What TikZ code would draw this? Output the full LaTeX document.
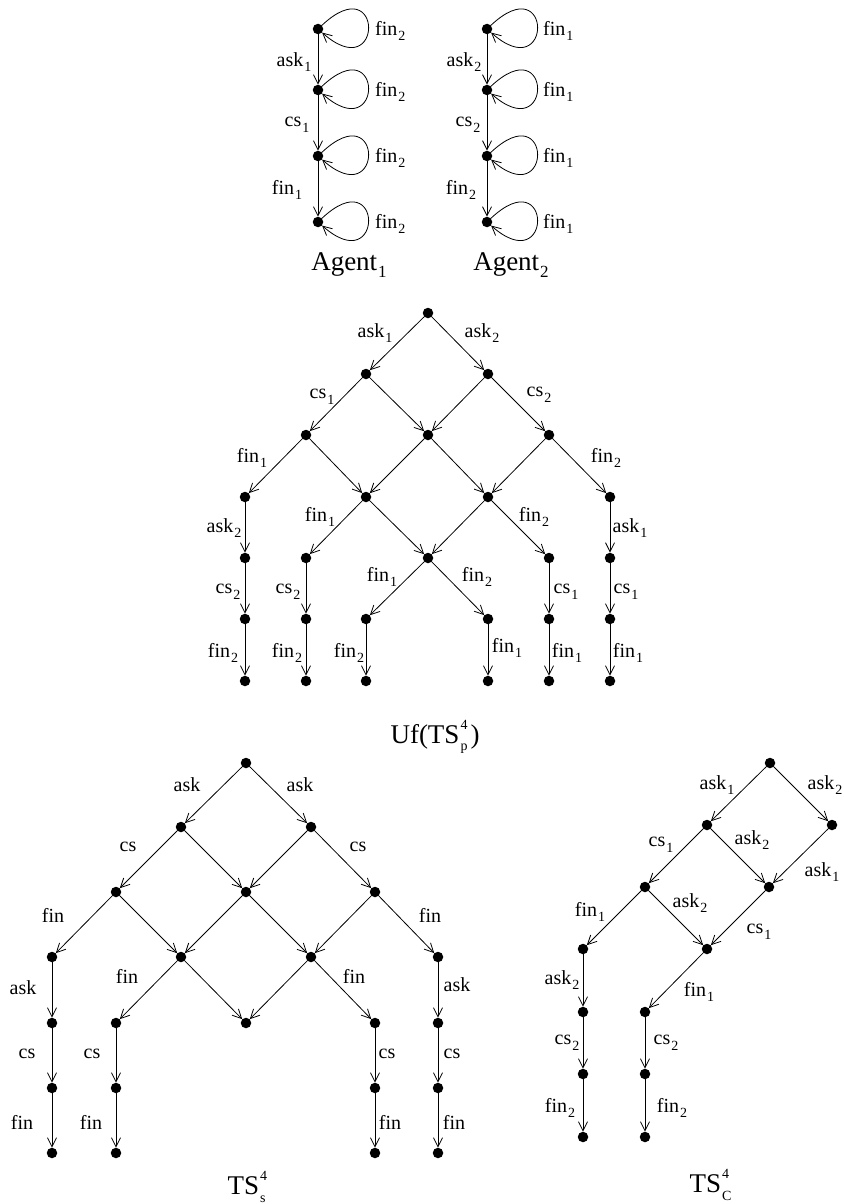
\documentclass[tikz,border=0pt]{standalone}
\usepackage{fontspec}
\setmainfont{Liberation Serif}
\usetikzlibrary{arrows.meta}
\newcommand\sbs[1]{\kern1pt\raisebox{-0.6ex}{\fontsize{14}{14}\selectfont #1}}
\newcommand\tsbs[1]{\kern1pt\raisebox{-0.6ex}{\fontsize{17}{17}\selectfont #1}}
\newcommand\supsub[2]{\kern1pt\makebox[0pt][l]{\raisebox{1.15ex}{\fontsize{14}{14}\selectfont #1}}\raisebox{-0.6ex}{\fontsize{14}{14}\selectfont #2}\kern3pt}
\begin{document}
\begin{tikzpicture}[x=1pt,y=-1pt,
 dot/.style={circle,fill=black,inner sep=0pt,minimum size=10.5pt},
 arr/.style={-{Straight Barb[length=9pt,width=9pt]},line width=0.8pt},
 lbl/.style={font=\fontsize{20}{20}\selectfont,inner sep=0pt},
 ttl/.style={font=\fontsize{27}{27}\selectfont,inner sep=0pt}]
\useasboundingbox (0,0) rectangle (843,1204);

% ---------- Agents ----------
\foreach \n/\y in {1/29,2/90,3/156,4/222}{
  \node[dot] (a\n) at (318,\y) {};
  \node[dot] (b\n) at (487,\y) {};
  \draw[arr] (a\n) .. controls +(66,-62) and +(66,58) .. (a\n);
  \draw[arr] (b\n) .. controls +(66,-62) and +(66,58) .. (b\n);
  \node[lbl,anchor=west] (la\n) at (375,\y+2) {fin\sbs{2}};
  \node[lbl,anchor=west] (lb\n) at (543,\y+2) {fin\sbs{1}};
}
\draw[arr] (a1) -- (a2); \draw[arr] (a2) -- (a3); \draw[arr] (a3) -- (a4);
\draw[arr] (b1) -- (b2); \draw[arr] (b2) -- (b3); \draw[arr] (b3) -- (b4);
\node[lbl] (lae1) at (294,62) {ask\sbs{1}};
\node[lbl] (lae2) at (297,125) {cs\sbs{1}};
\node[lbl] (lae3) at (287,190) {fin\sbs{1}};
\node[lbl] (lbe1) at (464,62) {ask\sbs{2}};
\node[lbl] (lbe2) at (468,125) {cs\sbs{2}};
\node[lbl] (lbe3) at (461,190) {fin\sbs{2}};
\node[ttl] (tA1) at (349,265) {Agent\tsbs{1}};
\node[ttl] (tA2) at (511,265) {Agent\tsbs{2}};

% ---------- Uf(TS_p^4) ----------
\node[dot] (u0) at (428,313) {};
\node[dot] (u1a) at (366,374) {}; \node[dot] (u1b) at (488,374) {};
\node[dot] (u2a) at (306,435) {}; \node[dot] (u2b) at (428,435) {}; \node[dot] (u2c) at (549,435) {};
\node[dot] (u3a) at (245,497) {}; \node[dot] (u3b) at (366,497) {}; \node[dot] (u3c) at (488,497) {}; \node[dot] (u3d) at (610,497) {};
\node[dot] (u4a) at (245,558) {}; \node[dot] (u4b) at (306,558) {}; \node[dot] (u4c) at (428,558) {}; \node[dot] (u4d) at (549,558) {}; \node[dot] (u4e) at (610,558) {};
\foreach \k/\x in {a/245,b/306,c/366,d/488,e/549,f/610}{
  \node[dot] (u5\k) at (\x,619) {};
  \node[dot] (u6\k) at (\x,681) {};
  \draw[arr] (u5\k) -- (u6\k);
}
\draw[arr] (u0) -- (u1a); \draw[arr] (u0) -- (u1b);
\draw[arr] (u1a) -- (u2a); \draw[arr] (u1a) -- (u2b); \draw[arr] (u1b) -- (u2b); \draw[arr] (u1b) -- (u2c);
\draw[arr] (u2a) -- (u3a); \draw[arr] (u2a) -- (u3b); \draw[arr] (u2b) -- (u3b); \draw[arr] (u2b) -- (u3c); \draw[arr] (u2c) -- (u3c); \draw[arr] (u2c) -- (u3d);
\draw[arr] (u3a) -- (u4a); \draw[arr] (u3b) -- (u4b); \draw[arr] (u3b) -- (u4c); \draw[arr] (u3c) -- (u4c); \draw[arr] (u3c) -- (u4d); \draw[arr] (u3d) -- (u4e);
\draw[arr] (u4a) -- (u5a); \draw[arr] (u4b) -- (u5b); \draw[arr] (u4c) -- (u5c); \draw[arr] (u4c) -- (u5d); \draw[arr] (u4d) -- (u5e); \draw[arr] (u4e) -- (u5f);
\node[lbl] (lu1) at (375,333) {ask\sbs{1}};
\node[lbl] (lu2) at (482,333) {ask\sbs{2}};
\node[lbl] (lu3) at (322,397) {cs\sbs{1}};
\node[lbl] (lu4) at (539,395) {cs\sbs{2}};
\node[lbl] (lu5) at (252,458) {fin\sbs{1}};
\node[lbl] (lu6) at (606,458) {fin\sbs{2}};
\node[lbl] (lu7) at (224,528) {ask\sbs{2}};
\node[lbl] (lu8) at (320,517) {fin\sbs{1}};
\node[lbl] (lu9) at (534,517) {fin\sbs{2}};
\node[lbl] (lu10) at (630,528) {ask\sbs{1}};
\node[lbl] (lu11) at (228,592) {cs\sbs{2}};
\node[lbl] (lu12) at (288,592) {cs\sbs{2}};
\node[lbl] (lu13) at (382,577) {fin\sbs{1}};
\node[lbl] (lu14) at (477,577) {fin\sbs{2}};
\node[lbl] (lu15) at (566,592) {cs\sbs{1}};
\node[lbl] (lu16) at (626,592) {cs\sbs{1}};
\node[lbl] (lu17) at (223,653) {fin\sbs{2}};
\node[lbl] (lu18) at (287,653) {fin\sbs{2}};
\node[lbl] (lu19) at (349,653) {fin\sbs{2}};
\node[lbl] (lu20) at (507,648) {fin\sbs{1}};
\node[lbl] (lu21) at (567,653) {fin\sbs{1}};
\node[lbl] (lu22) at (628,653) {fin\sbs{1}};
\node[ttl] (tUf) at (435,737) {Uf(TS\supsub{4}{p})};

% ---------- TS_s^4 ----------
\node[dot] (s0) at (246,763) {};
\node[dot] (s1a) at (181,827) {}; \node[dot] (s1b) at (311,827) {};
\node[dot] (s2a) at (116,892) {}; \node[dot] (s2b) at (246,892) {}; \node[dot] (s2c) at (375,892) {};
\node[dot] (s3a) at (52,957) {}; \node[dot] (s3b) at (181,957) {}; \node[dot] (s3c) at (311,957) {}; \node[dot] (s3d) at (438,957) {};
\node[dot] (s4a) at (52,1023) {}; \node[dot] (s4b) at (116,1023) {}; \node[dot] (s4c) at (246,1023) {}; \node[dot] (s4d) at (375,1023) {}; \node[dot] (s4e) at (438,1023) {};
\foreach \k/\x in {a/52,b/116,c/375,d/438}{
  \node[dot] (s5\k) at (\x,1088) {};
  \node[dot] (s6\k) at (\x,1153) {};
  \draw[arr] (s5\k) -- (s6\k);
}
\draw[arr] (s0) -- (s1a); \draw[arr] (s0) -- (s1b);
\draw[arr] (s1a) -- (s2a); \draw[arr] (s1a) -- (s2b); \draw[arr] (s1b) -- (s2b); \draw[arr] (s1b) -- (s2c);
\draw[arr] (s2a) -- (s3a); \draw[arr] (s2a) -- (s3b); \draw[arr] (s2b) -- (s3b); \draw[arr] (s2b) -- (s3c); \draw[arr] (s2c) -- (s3c); \draw[arr] (s2c) -- (s3d);
\draw[arr] (s3a) -- (s4a); \draw[arr] (s3b) -- (s4b); \draw[arr] (s3b) -- (s4c); \draw[arr] (s3c) -- (s4c); \draw[arr] (s3c) -- (s4d); \draw[arr] (s3d) -- (s4e);
\draw[arr] (s4a) -- (s5a); \draw[arr] (s4b) -- (s5b); \draw[arr] (s4d) -- (s5c); \draw[arr] (s4e) -- (s5d);
\node[lbl] (ls1) at (187,785) {ask};
\node[lbl] (ls2) at (300,785) {ask};
\node[lbl] (ls3) at (128,847) {cs};
\node[lbl] (ls4) at (358,847) {cs};
\node[lbl] (ls5) at (53,915) {fin};
\node[lbl] (ls6) at (430,915) {fin};
\node[lbl] (ls7) at (23,988) {ask};
\node[lbl] (ls8) at (127,976) {fin};
\node[lbl] (ls9) at (354,976) {fin};
\node[lbl] (ls10) at (457,985) {ask};
\node[lbl] (ls11) at (27,1054) {cs};
\node[lbl] (ls12) at (92,1054) {cs};
\node[lbl] (ls13) at (387,1054) {cs};
\node[lbl] (ls14) at (452,1054) {cs};
\node[lbl] (ls15) at (22,1122) {fin};
\node[lbl] (ls16) at (91,1122) {fin};
\node[lbl] (ls17) at (390,1122) {fin};
\node[lbl] (ls18) at (454,1122) {fin};
\node[ttl] (tS) at (248,1187) {TS\supsub{4}{s}};

% ---------- TS_C^4 ----------
\node[dot] (c0) at (770,763) {};
\node[dot] (c1a) at (707,825) {}; \node[dot] (c1b) at (832,825) {};
\node[dot] (c2a) at (645,887) {}; \node[dot] (c2b) at (769,887) {};
\node[dot] (c3a) at (583,949) {}; \node[dot] (c3b) at (707,949) {};
\node[dot] (c4a) at (583,1012) {}; \node[dot] (c4b) at (645,1012) {};
\node[dot] (c5a) at (583,1074) {}; \node[dot] (c5b) at (645,1074) {};
\node[dot] (c6a) at (583,1137) {}; \node[dot] (c6b) at (645,1137) {};
\draw[arr] (c0) -- (c1a); \draw[arr] (c0) -- (c1b);
\draw[arr] (c1a) -- (c2a); \draw[arr] (c1a) -- (c2b); \draw[arr] (c1b) -- (c2b);
\draw[arr] (c2a) -- (c3a); \draw[arr] (c2a) -- (c3b); \draw[arr] (c2b) -- (c3b);
\draw[arr] (c3a) -- (c4a); \draw[arr] (c3b) -- (c4b);
\draw[arr] (c4a) -- (c5a); \draw[arr] (c4b) -- (c5b);
\draw[arr] (c5a) -- (c6a); \draw[arr] (c5b) -- (c6b);
\node[lbl] (lc1) at (717,785) {ask\sbs{1}};
\node[lbl] (lc2) at (825,785) {ask\sbs{2}};
\node[lbl] (lc3) at (661,845) {cs\sbs{1}};
\node[lbl] (lc4) at (752,840) {ask\sbs{2}};
\node[lbl] (lc5) at (822,872) {ask\sbs{1}};
\node[lbl] (lc6) at (590,912) {fin\sbs{1}};
\node[lbl] (lc7) at (690,903) {ask\sbs{2}};
\node[lbl] (lc8) at (759,932) {cs\sbs{1}};
\node[lbl] (lc9) at (562,980) {ask\sbs{2}};
\node[lbl] (lc10) at (699,992) {fin\sbs{1}};
\node[lbl] (lc11) at (567,1043) {cs\sbs{2}};
\node[lbl] (lc12) at (666,1043) {cs\sbs{2}};
\node[lbl] (lc13) at (560,1108) {fin\sbs{2}};
\node[lbl] (lc14) at (672,1108) {fin\sbs{2}};
\node[ttl] (tC) at (712,1185) {TS\supsub{4}{C}};
\end{tikzpicture}
\end{document}
